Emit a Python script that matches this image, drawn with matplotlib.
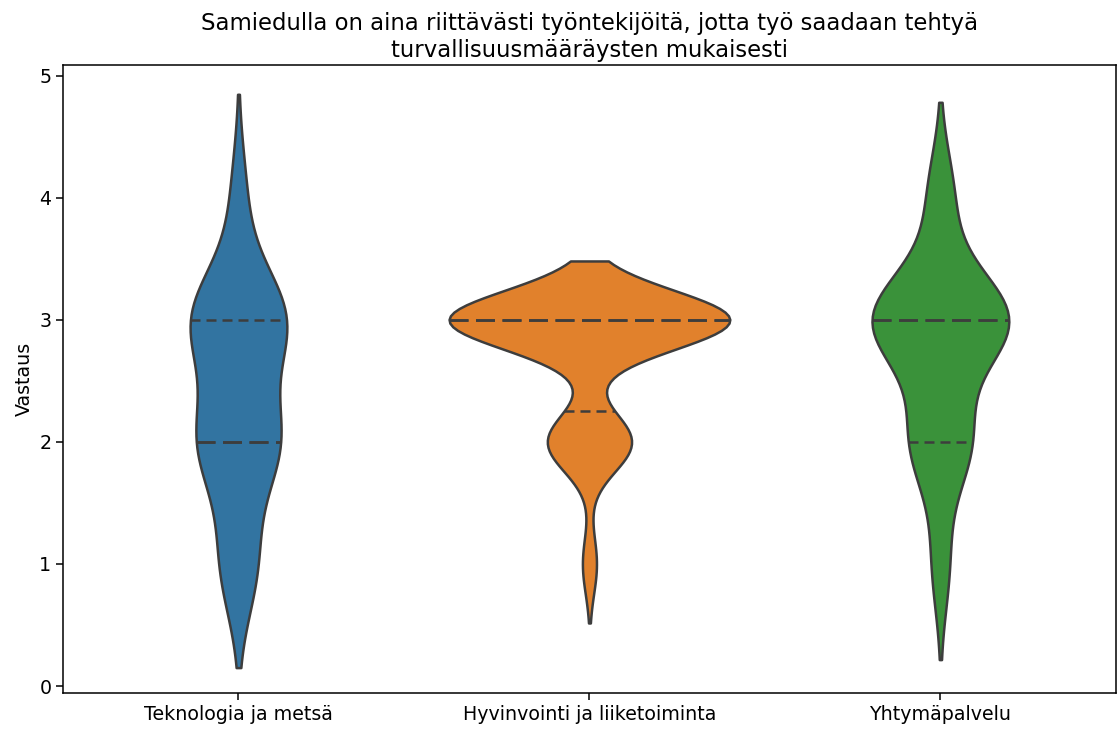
import matplotlib
matplotlib.use("Agg")
import matplotlib.pyplot as plt
import seaborn as sns
import pandas as pd
import numpy as np

# Response counts per answer value
categories = ["Teknologia ja metsä", "Hyvinvointi ja liiketoiminta", "Yhtymäpalvelu"]
answer_values = [1, 2, 3, 4]
counts_teknologia = [5, 11, 13, 2]
counts_hyvinvointi = [2, 12, 40, 0]
counts_yhtyma = [2, 7, 16, 3]

title = "Samiedulla on aina riittävästi työntekijöitä, jotta työ saadaan tehtyä\nturvallisuusmääräysten mukaisesti"
ylabel = "Vastaus"

rows = []
for cat, counts in zip(categories, [counts_teknologia, counts_hyvinvointi, counts_yhtyma]):
    for v, c in zip(answer_values, counts):
        rows += [(cat, v)] * c
df = pd.DataFrame(rows, columns=["Yksikkö", "Vastaus"])

LW = 1.8
fig, ax = plt.subplots(figsize=(11.17, 7.29), dpi=100)
sns.violinplot(data=df, x="Yksikkö", y="Vastaus", hue="Yksikkö", order=categories,
               hue_order=categories, inner="quart", legend=False, ax=ax,
               linewidth=LW, common_norm=True)

# dash patterns (in pixels) as seen in the reference
medians = [np.median(df.loc[df["Yksikkö"] == c, "Vastaus"]) for c in categories]
px2pt = 72 / 100
for line in ax.lines:
    xd, yd = line.get_xdata(), line.get_ydata()
    if len(yd) == 2 and np.isclose(yd[0], yd[1]):
        idx = int(np.round(np.mean(xd)))
        lw = line.get_linewidth()
        if np.isclose(yd[0], medians[idx]):
            line.set_linestyle((0, (19 * px2pt / lw, 7.5 * px2pt / lw)))
        else:
            line.set_linestyle((0, (10 * px2pt / lw, 6 * px2pt / lw)))

ax.set_title(title, fontsize=16.4)
ax.set_xlabel("")
ax.set_ylabel(ylabel, fontsize=13.7)
ax.tick_params(labelsize=13.7, length=4.8, width=1.1)
for s in ax.spines.values():
    s.set_linewidth(1.1)
ax.set_ylim(-0.057, 5.09)
fig.subplots_adjust(left=0.0564, right=0.999, top=0.911, bottom=0.0494)
fig.savefig("out.png", dpi=100)
